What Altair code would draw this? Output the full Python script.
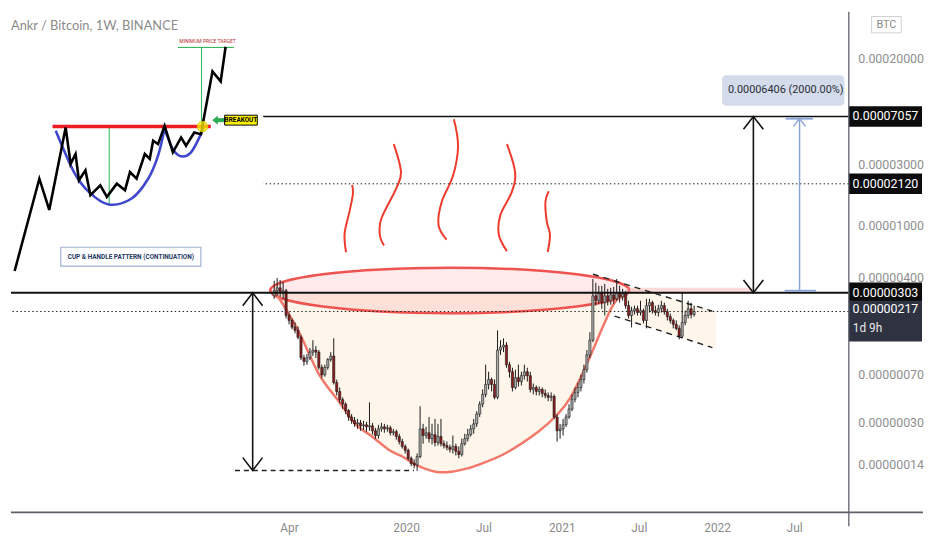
import altair as alt
import pandas as pd

DAY_MS = 86400000


def ms(s):
    return int(pd.Timestamp(s, tz="UTC").value // 10**6)


# ---------------- weekly candles (prices in satoshi, 1e-8 BTC) ----------------
first_week = "2019-02-25"
first_open = 287
close = [314, 331, 303, 314, 202, 185, 164, 155, 137, 95,
         89, 95, 105, 109, 105, 80, 70, 80, 92, 98,
         61, 52, 45, 41.5, 37, 33, 31, 29.2, 29.7, 28.2,
         28.7, 27.7, 28.2, 25.8, 23.7, 26.7, 27.7, 26.7, 27.2, 24.9,
         25.4, 23.3, 21.3, 19.5, 18.2, 15.8, 14.4, 14, 16.3, 26.7,
         23.7, 24.9, 22.4, 24.1, 20.9, 23.3, 20.5, 19.8, 19.2, 18.5,
         19.5, 17.9, 16.9, 20.5, 22.4, 24.1, 26.7, 29.2, 34.8, 41.5,
         49.4, 59, 64.4, 59, 46.9, 109, 115, 119, 84, 74,
         55.9, 66.6, 62.1, 69, 74, 69, 54, 55.9, 52.1, 54,
         50.3, 48.5, 46.9, 47.7, 33, 25.8, 26.7, 28.7, 33, 38,
         45.3, 51.2, 55.9, 64.4, 76.8, 100, 130, 287, 263, 303,
         254, 287, 263, 292, 272, 303, 282, 298, 241, 202,
         220, 228, 213, 220, 185, 241, 254, 220, 213, 228,
         241, 216, 198, 185, 172.5, 160.5, 139.5, 178.5, 202, 228,
         205.5, 217]
high = [375, 395, 381, 368, 325, 213, 191.5, 178.5, 166.5, 142,
        100, 101.5, 113, 130, 117, 109, 84, 84, 94.5, 105,
        134.5, 64.4, 55.9, 46.9, 42.9, 38, 34.8, 33, 31.9, 31.3,
        30.8, 30.2, 42.9, 29.7, 27.2, 28.7, 29.7, 29.2, 28.7, 28.2,
        26.7, 26.3, 24.5, 22.4, 20.2, 18.8, 16.3, 15.5, 17.2, 40,
        29.2, 27.7, 33, 29.2, 31.9, 29.2, 31.9, 21.7, 21.3, 20.2,
        23.7, 20.5, 19.5, 22.4, 24.5, 26.7, 28.7, 31.9, 36.6, 43.7,
        54, 84, 74, 66.6, 64.4, 155, 130, 134.5, 125.5, 88.5,
        79.5, 76.8, 84, 74, 84, 79.5, 74, 60, 58, 56.9,
        55.9, 54, 51.2, 51.2, 49.4, 34.8, 29.2, 31.9, 34.8, 41.5,
        49.4, 55.9, 61, 70.3, 84, 109, 150, 388, 362, 343,
        343, 355, 325, 331, 337, 388, 343, 325, 314, 263,
        236, 241, 241, 263, 228, 272, 272, 263, 241, 245,
        263, 254, 228, 209, 191.5, 185, 169.5, 303, 220, 263,
        254, 241]
low = [272, 287, 282, 272, 191.5, 172.5, 158, 147, 132, 91.5,
       82.5, 84, 91.5, 98, 94.5, 76.8, 66.6, 67.8, 76.8, 88.5,
       59, 48.5, 42.2, 38, 34.8, 30.8, 29.2, 27.7, 26.7, 25.8,
       26.3, 25.4, 25.8, 24.1, 22.4, 22.4, 25.4, 24.9, 25.4, 23.7,
       23.7, 22, 20.2, 18.8, 17.2, 15.2, 13.7, 13.2, 12.6, 15.8,
       20.5, 22.4, 20.9, 20.2, 19.5, 19.8, 19.5, 18.8, 18.2, 17.5,
       17.2, 16.6, 15.8, 16.3, 19.8, 21.3, 23.3, 24.5, 27.7, 33,
       39.3, 46.9, 54, 52.1, 45.3, 45.3, 100, 105, 79.5, 66.6,
       52.1, 54, 56.9, 58, 64.4, 62.1, 51.2, 49.4, 48.5, 48.5,
       46.9, 46, 43.7, 43.7, 31.9, 21.3, 22.4, 23.7, 27.7, 31.9,
       36.6, 42.9, 46.9, 52.1, 60, 72.8, 94.5, 125.5, 241, 249,
       228, 202, 241, 245, 249, 263, 254, 263, 228, 191.5,
       163.5, 205.5, 202, 202, 175.5, 160.5, 213, 209, 202, 198,
       213, 205.5, 185, 175.5, 160.5, 155, 132, 134.5, 169.5, 191.5,
       191.5, 198]

# ---------------- axes ----------------
x_start, x_end = "2017-06-28", "2022-10-26"
y_min, y_max = 6.013, 45650
tick_dates = ["2019-04-01", "2020-01-01", "2020-07-01", "2021-01-01",
              "2021-07-01", "2022-01-01", "2022-07-01"]
price_ticks = [20000, 3000, 1000, 400, 70, 30, 14]

# ---------------- price levels (satoshi) ----------------
level_target = 7057
level_mid = 2120
level_neck = 303
level_last = 217
cup_low = 12.7
measured_move_text = "0.00006406 (2000.00%)"
countdown_text = "1d 9h"

# ---------------- drawings (x in weeks from first candle, y in satoshi) ----------------
bowl_w = [0, 4.27, 8.54, 15.11, 21.67, 27.26, 32.84, 38.75, 43.02, 48.6, 54.19, 59.44,
          65.02, 68.31, 77.5, 88.67, 95.24, 99.51, 104.43, 107.72, 111, 114.29, 118.23]
bowl_p = [314, 220, 147, 70.3, 43.7, 29.2, 23.3, 18.2, 16.3, 13.7, 12.4, 12.4,
          13.2, 14, 17.2, 25.4, 34.8, 46.9, 79.5, 119, 178.5, 254, 303]
ellipse_w, ellipse_p = 58.95, 316

steam_id = [1] * 5 + [2] * 6 + [3] * 6 + [4] * 6 + [5] * 5
steam_w = [26.17, 26.44, 25.29, 23.65, 24.14,
           40.16, 42.59, 40.95, 36.03, 35.47, 36.88,
           60.33, 61.74, 60.1, 56.26, 55.17, 57.9,
           78.16, 80.89, 79.8, 75.96, 75.44, 78.16,
           92.18, 91.07, 91.53, 92.61, 91.85]
steam_p = [2077, 1773, 1290, 874, 625,
           4307, 2614, 1946, 1146, 854, 704,
           6698, 4187, 2466, 1539, 1020, 782,
           4307, 2614, 1836, 1217, 854, 636,
           1859, 1539, 1081, 854, 628]

channel_id = ["up", "up", "lo", "lo"]
channel_w = [107.06, 147.13, 114.29, 147.13]
channel_p = [422, 218, 200, 114]

handle_w = [118.23, 148.44]
handle_top = [351, 213]
handle_bot = [187, 112]

band_w = [118.23, 160.26]
band_p = [298, 331]

arrow_left_w = -7.22
arrow_right_w = 160.9
arrow_blue_w = 176.4
blue_top_p = 6782
blue_bottom_p = 314
blue_top_bar_w = [171.76, 180.95]
blue_bottom_bar_w = [171.4, 181.9]
cup_low_line_w = [-13.14, 46.96]
measure_box_w = [150.4, 191.46]
measure_box_p = [8531, 14748]
measure_text_w, measure_text_p = 171.76, 11220

# ---------------- inset picture (its own units) ----------------
inset_bg = [5, 28, 263, 276]
zig_x = [11.7, 36.7, 46.7, 63.3, 68.3, 73.3, 76.7, 83.3, 88.3, 98.3, 105, 115, 123.3, 128.3,
         135, 143.3, 148.3, 151.7, 156.7, 163.3, 171.7, 180, 185, 193.3, 200, 211.7, 220, 225]
zig_y = [270, 176.7, 208.3, 125, 161.7, 151.7, 178.3, 168.3, 193.3, 183.3, 195, 181.7, 188.3, 170,
         176.7, 151.7, 156.7, 138.3, 141.7, 123.3, 150, 135, 143.3, 130, 131.7, 68.3, 78.3, 43.3]
blue_id = ["cup"] * 8 + ["handle"] * 6
blue_x = [53.3, 71.7, 86.7, 106.7, 130, 146.7, 156.7, 163.3,
          163.3, 171.7, 180, 190, 200, 204]
blue_y = [128.3, 170, 190, 202.7, 196.7, 176.7, 153.3, 126,
          126, 146.7, 154, 150, 131.7, 121.7]
rim = [50, 210, 124]
green_x1 = [107.3, 200.7, 176.7]
green_y1 = [124, 44, 44]
green_x2 = [107.3, 200.7, 233.3]
green_y2 = [202.7, 124, 44]
breakout_pt = [201.7, 124]
green_arrow_pt = [218, 117.5]
breakout_box = [224, 112.5, 257, 122.5]
target_label_pt = [206.7, 37.5]
pattern_box = [58.3, 246, 200, 265]
title_pt = [8, 22]
title_text = "Ankr / Bitcoin, 1W, BINANCE"

# ======================================================================
t0 = ms(first_week)


def wk(w):
    return t0 + w * 7 * DAY_MS


XS = alt.Scale(type="utc", domain=[ms(x_start), ms(x_end)], nice=False)
YS = alt.Scale(type="log", domain=[y_min, y_max], nice=False)
XA = alt.Axis(values=[ms(d) for d in tick_dates],
              labelExpr="utcFormat(datum.value,'%m')=='01' ? utcFormat(datum.value,'%Y') : utcFormat(datum.value,'%b')",
              title=None, domain=False, ticks=False, tickSize=0, grid=False,
              labelColor="#8a8a8a", labelFont="Roboto", labelFontSize=12,
              labelPadding=10, labelOverlap=False, labelFlush=False)
YA = alt.Axis(orient="right", values=price_ticks,
              labelExpr="format(datum.value/1e8,'.8f')",
              title=None, domain=False, ticks=False, tickSize=0, grid=False,
              labelColor="#8f8f8f", labelFont="Roboto", labelFontSize=12.5,
              labelPadding=9, labelOverlap=False, labelFlush=False, labelAlign="left")


def X(f):
    return alt.X(f, type="temporal", scale=XS, axis=XA)


def Y(f):
    return alt.Y(f, type="quantitative", scale=YS, axis=YA)


n = len(close)
opens = [first_open] + close[:-1]
candles = pd.DataFrame({"t": [wk(i) for i in range(n)], "o": opens, "h": high, "l": low, "c": close})
candles["dir"] = ["up" if c >= o else "down" for o, c in zip(opens, close)]

PEACH = "#f7a23a"
bowl_df = pd.DataFrame({"t": [wk(w) for w in bowl_w], "p": bowl_p, "base": level_neck,
                        "k": list(range(len(bowl_w)))})
bowl_area = alt.Chart(bowl_df).mark_area(color=PEACH, opacity=0.1, interpolate="cardinal").encode(
    x=X("t"), y=Y("p"), y2="base")
bowl_line = alt.Chart(bowl_df).mark_line(color="#f2786b", strokeWidth=2.5, interpolate="cardinal").encode(
    x=X("t"), y=Y("p"), order="k:Q")

handle_df = pd.DataFrame({"t": [wk(w) for w in handle_w], "top": handle_top, "bot": handle_bot})
handle_area = alt.Chart(handle_df).mark_area(color=PEACH, opacity=0.1).encode(
    x=X("t"), y=Y("top"), y2="bot")

ELLIPSE = ("M-1,0C-1,-0.07,-0.5523,-0.1267,0,-0.1267C0.5523,-0.1267,1,-0.07,1,0"
           "C1,0.07,0.5523,0.1267,0,0.1267C-0.5523,0.1267,-1,0.07,-1,0Z")
ell_df = pd.DataFrame({"t": [wk(ellipse_w)], "p": [ellipse_p]})
ellipse = alt.Chart(ell_df).mark_point(shape=ELLIPSE, size=363 * 363, filled=True, fill="#f23645",
                                       fillOpacity=0.11, stroke="#ef5350", strokeWidth=2.5,
                                       opacity=1).encode(x=X("t"), y=Y("p"))

band_df = pd.DataFrame({"t1": [wk(band_w[0])], "t2": [wk(band_w[1])], "p1": [band_p[0]], "p2": [band_p[1]]})
band = alt.Chart(band_df).mark_rect(color="#f5a3a3", opacity=0.4).encode(
    x=X("t1"), x2="t2", y=Y("p1"), y2="p2")

steam_df = pd.DataFrame({"id": steam_id, "t": [wk(w) for w in steam_w], "p": steam_p,
                         "k": list(range(len(steam_w)))})
steam = alt.Chart(steam_df).mark_line(color="#ef3b2c", strokeWidth=2, interpolate="cardinal").encode(
    x=X("t"), y=Y("p"), detail="id:N", order="k:Q")

chan_df = pd.DataFrame({"id": channel_id, "t": [wk(w) for w in channel_w], "p": channel_p})
channel = alt.Chart(chan_df).mark_line(color="#222222", strokeWidth=1.4, strokeDash=[6, 5]).encode(
    x=X("t"), y=Y("p"), detail="id:N")

lv_solid = alt.Chart(pd.DataFrame({"p": [level_target]})).mark_rule(color="#111111", strokeWidth=1.5).encode(y=Y("p"))
lv_dot = alt.Chart(pd.DataFrame({"p": [level_mid, level_last]})).mark_rule(
    color="#222222", strokeWidth=1, strokeDash=[1.5, 2.5]).encode(y=Y("p"))
lv_neck = alt.Chart(pd.DataFrame({"p": [level_neck]})).mark_rule(color="#111111", strokeWidth=2).encode(y=Y("p"))

wicks = alt.Chart(candles).mark_rule(color="#1a1a1a", strokeWidth=1).encode(x=X("t"), y=Y("l"), y2="h")
bodies = alt.Chart(candles).mark_bar(size=2.2, stroke="#1a1a1a", strokeWidth=0.6).encode(
    x=X("t"), y=Y("o"), y2="c",
    color=alt.Color("dir:N", scale=alt.Scale(domain=["up", "down"], range=["#a8a8a8", "#8e1c1c"]), legend=None))

# arrows
vert_df = pd.DataFrame({"t": [wk(arrow_left_w), wk(arrow_right_w)], "p1": [cup_low, level_neck],
                        "p2": [level_neck, level_target]})
verts = alt.Chart(vert_df).mark_rule(color="#111111", strokeWidth=1.6).encode(x=X("t"), y=Y("p1"), y2="p2")
UP = "M-1,1.3L0,0L1,1.3"
DOWN = "M-1,-1.3L0,0L1,-1.3"
up_df = pd.DataFrame({"t": [wk(arrow_left_w), wk(arrow_right_w)], "p": [level_neck, level_target]})
dn_df = pd.DataFrame({"t": [wk(arrow_left_w), wk(arrow_right_w)], "p": [cup_low, level_neck]})
heads_up = alt.Chart(up_df).mark_point(shape=UP, size=400, filled=False, stroke="#111111",
                                       strokeWidth=1.6, opacity=1).encode(x=X("t"), y=Y("p"))
heads_dn = alt.Chart(dn_df).mark_point(shape=DOWN, size=400, filled=False, stroke="#111111",
                                       strokeWidth=1.6, opacity=1).encode(x=X("t"), y=Y("p"))
low_line = alt.Chart(pd.DataFrame({"t1": [wk(cup_low_line_w[0])], "t2": [wk(cup_low_line_w[1])],
                                   "p": [cup_low]})).mark_rule(
    color="#222222", strokeWidth=1.4, strokeDash=[5, 4]).encode(x=X("t1"), x2="t2", y=Y("p"))

BLUE = "#8aa3d6"
blue_v = alt.Chart(pd.DataFrame({"t": [wk(arrow_blue_w)], "p1": [blue_bottom_p], "p2": [blue_top_p]})).mark_rule(
    color=BLUE, strokeWidth=1.5).encode(x=X("t"), y=Y("p1"), y2="p2")
blue_bars = alt.Chart(pd.DataFrame({"t1": [wk(blue_top_bar_w[0]), wk(blue_bottom_bar_w[0])],
                                    "t2": [wk(blue_top_bar_w[1]), wk(blue_bottom_bar_w[1])],
                                    "p": [blue_top_p, blue_bottom_p]})).mark_rule(
    color=BLUE, strokeWidth=2).encode(x=X("t1"), x2="t2", y=Y("p"))
blue_head = alt.Chart(pd.DataFrame({"t": [wk(arrow_blue_w)], "p": [blue_top_p]})).mark_point(
    shape=UP, size=144, filled=False, stroke=BLUE, strokeWidth=1.5, opacity=1).encode(x=X("t"), y=Y("p"))

mbox = alt.Chart(pd.DataFrame({"t1": [wk(measure_box_w[0])], "t2": [wk(measure_box_w[1])],
                               "p1": [measure_box_p[0]], "p2": [measure_box_p[1]]})).mark_rect(
    color="#d4dbeb", cornerRadius=4).encode(x=X("t1"), x2="t2", y=Y("p1"), y2="p2")
mtext = alt.Chart(pd.DataFrame({"t": [wk(measure_text_w)], "p": [measure_text_p], "s": [measured_move_text]})).mark_text(
    font="Roboto", fontSize=11, color="#2a2e39").encode(x=X("t"), y=Y("p"), text="s:N")

# right-hand price labels
RECT = "M-1,-0.28L1,-0.28L1,0.28L-1,0.28Z"
lab_df = pd.DataFrame({"p": [level_target, level_mid, level_neck]})
lab_df["s"] = [f"{p / 1e8:.8f}" for p in lab_df["p"]]
lab_box = alt.Chart(lab_df).mark_point(shape=RECT, size=74 * 74, filled=True, fill="#0c0c0c",
                                        strokeWidth=0, opacity=1).encode(x=alt.value(884), y=Y("p"))
lab_txt = alt.Chart(lab_df).mark_text(font="Roboto", fontSize=12.5, color="white").encode(
    x=alt.value(884), y=Y("p"), text="s:N")
CUR = "M-1,-0.29L1,-0.29L1,0.82L-1,0.82Z"
cur_df = pd.DataFrame({"p": [level_last], "s": [f"{level_last / 1e8:.8f}"], "cd": [countdown_text]})
cur_box = alt.Chart(cur_df).mark_point(shape=CUR, size=74 * 74, filled=True, fill="#2f3241",
                                        strokeWidth=0, opacity=1).encode(x=alt.value(884), y=Y("p"))
cur_txt = alt.Chart(cur_df).mark_text(font="Roboto", fontSize=12.5, color="white", dy=-2).encode(
    x=alt.value(884), y=Y("p"), text="s:N")
cur_cd = alt.Chart(cur_df).mark_text(font="Roboto", fontSize=12, color="#e8e8e8", align="left", dy=17).encode(
    x=alt.value(851), y=Y("p"), text="cd:N")
BADGE = "M-1,-0.55L1,-0.55L1,0.55L-1,0.55Z"
badge_df = pd.DataFrame({"p": [36290], "s": ["BTC"]})
badge = alt.Chart(badge_df).mark_point(shape=BADGE, size=900, filled=True, fill="white", stroke="#cfcfcf",
                                       strokeWidth=1, opacity=1).encode(x=alt.value(885), y=Y("p"))
badge_t = alt.Chart(badge_df).mark_text(font="Roboto", fontSize=11, color="#8a8a8a").encode(
    x=alt.value(885), y=Y("p"), text="s:N")

frame_v = alt.Chart(pd.DataFrame({"a": [0]})).mark_rule(color="#5d606b", strokeWidth=1.3).encode(
    x=alt.value(847), y=alt.value(0), y2=alt.value(520))
frame_h = alt.Chart(pd.DataFrame({"a": [0]})).mark_rule(color="#5d606b", strokeWidth=1.6).encode(
    x=alt.value(0), x2=alt.value(922), y=alt.value(506))

main = alt.layer(
    bowl_area, handle_area, ellipse, band, steam, bowl_line, channel,
    lv_solid, lv_dot, wicks, bodies, lv_neck,
    verts, heads_up, heads_dn, low_line, blue_v, blue_bars, blue_head,
    mbox, mtext, lab_box, lab_txt, cur_box, cur_txt, cur_cd, badge, badge_t,
    frame_v, frame_h,
)

# ---------------- inset ----------------
IXS = alt.Scale(domain=[8, 855], nice=False, zero=False)
IYS = alt.Scale(domain=[8, 514], reverse=True, nice=False, zero=False)


def IX(f):
    return alt.X(f, type="quantitative", scale=IXS, axis=None)


def IY(f):
    return alt.Y(f, type="quantitative", scale=IYS, axis=None)


def rect_df(b):
    return pd.DataFrame({"x1": [b[0]], "y1": [b[1]], "x2": [b[2]], "y2": [b[3]]})


bg = alt.Chart(rect_df(inset_bg)).mark_rect(color="white").encode(x=IX("x1"), x2="x2", y=IY("y1"), y2="y2")
title = alt.Chart(pd.DataFrame({"x": [title_pt[0]], "y": [title_pt[1]], "s": [title_text]})).mark_text(
    align="left", baseline="middle", font="Liberation Sans Narrow, Lato", fontSize=13, color="#8c8c8c").encode(
    x=IX("x"), y=IY("y"), text="s:N")
green = alt.Chart(pd.DataFrame({"x1": green_x1, "y1": green_y1, "x2": green_x2, "y2": green_y2})).mark_rule(
    color="#22b14c", strokeWidth=1).encode(x=IX("x1"), x2="x2", y=IY("y1"), y2="y2")
blue_df = pd.DataFrame({"id": blue_id, "x": blue_x, "y": blue_y, "k": list(range(len(blue_x)))})
blue_curves = alt.Chart(blue_df).mark_line(color="#3f48cc", strokeWidth=2.6, interpolate="cardinal").encode(
    x=IX("x"), y=IY("y"), detail="id:N", order="k:Q")
rim_line = alt.Chart(pd.DataFrame({"x1": [rim[0]], "x2": [rim[1]], "y": [rim[2]]})).mark_rule(
    color="#ed1c24", strokeWidth=3.5).encode(x=IX("x1"), x2="x2", y=IY("y"))
zig_df = pd.DataFrame({"x": zig_x, "y": zig_y, "k": list(range(len(zig_x)))})
zig = alt.Chart(zig_df).mark_line(color="black", strokeWidth=2.6).encode(x=IX("x"), y=IY("y"), order="k:Q")
bo_pt = alt.Chart(pd.DataFrame({"x": [breakout_pt[0]], "y": [breakout_pt[1]]})).mark_point(
    shape="circle", size=110, filled=True, fill="#fff200", fillOpacity=0.75, stroke="#d8c400",
    strokeWidth=1, opacity=1).encode(x=IX("x"), y=IY("y"))
ARROW = "M-1,0L-0.2,-0.65L-0.2,-0.28L1,-0.28L1,0.28L-0.2,0.28L-0.2,0.65Z"
g_arrow = alt.Chart(pd.DataFrame({"x": [green_arrow_pt[0]], "y": [green_arrow_pt[1]]})).mark_point(
    shape=ARROW, size=144, filled=True, fill="#22b14c", stroke="#1a7f36", strokeWidth=0.5,
    opacity=1).encode(x=IX("x"), y=IY("y"))
bo_box = alt.Chart(rect_df(breakout_box)).mark_rect(color="#fff200", stroke="black", strokeWidth=1).encode(
    x=IX("x1"), x2="x2", y=IY("y1"), y2="y2")
bo_txt = alt.Chart(pd.DataFrame({"x": [(breakout_box[0] + breakout_box[2]) / 2],
                                 "y": [(breakout_box[1] + breakout_box[3]) / 2], "s": ["BREAKOUT"]})).mark_text(
    font="Liberation Sans Narrow, Roboto", fontSize=6.5, fontWeight="bold", color="black").encode(
    x=IX("x"), y=IY("y"), text="s:N")
tgt_txt = alt.Chart(pd.DataFrame({"x": [target_label_pt[0]], "y": [target_label_pt[1]],
                                  "s": ["MINIMUM PRICE TARGET"]})).mark_text(
    font="Liberation Sans Narrow, Roboto", fontSize=5, color="#b5282e").encode(x=IX("x"), y=IY("y"), text="s:N")
pat_box = alt.Chart(rect_df(pattern_box)).mark_rect(color="white", stroke="#9fb3d1", strokeWidth=1.2).encode(
    x=IX("x1"), x2="x2", y=IY("y1"), y2="y2")
pat_txt = alt.Chart(pd.DataFrame({"x": [(pattern_box[0] + pattern_box[2]) / 2],
                                  "y": [(pattern_box[1] + pattern_box[3]) / 2],
                                  "s": ["CUP & HANDLE PATTERN (CONTINUATION)"]})).mark_text(
    font="Liberation Sans Narrow, Roboto", fontSize=6.5, fontWeight="bold", color="#1f3864").encode(
    x=IX("x"), y=IY("y"), text="s:N")

inset = alt.layer(bg, title, green, blue_curves, rim_line, zig, bo_pt, g_arrow, bo_box, bo_txt,
                  tgt_txt, pat_box, pat_txt)

chart = (
    alt.layer(main, inset)
    .resolve_scale(x="independent", y="independent")
    .properties(width=847, height=506, padding=0, background="white")
    .configure_view(stroke=None)
)

chart.save("out.html", embed_options={"renderer": "svg", "actions": False})
